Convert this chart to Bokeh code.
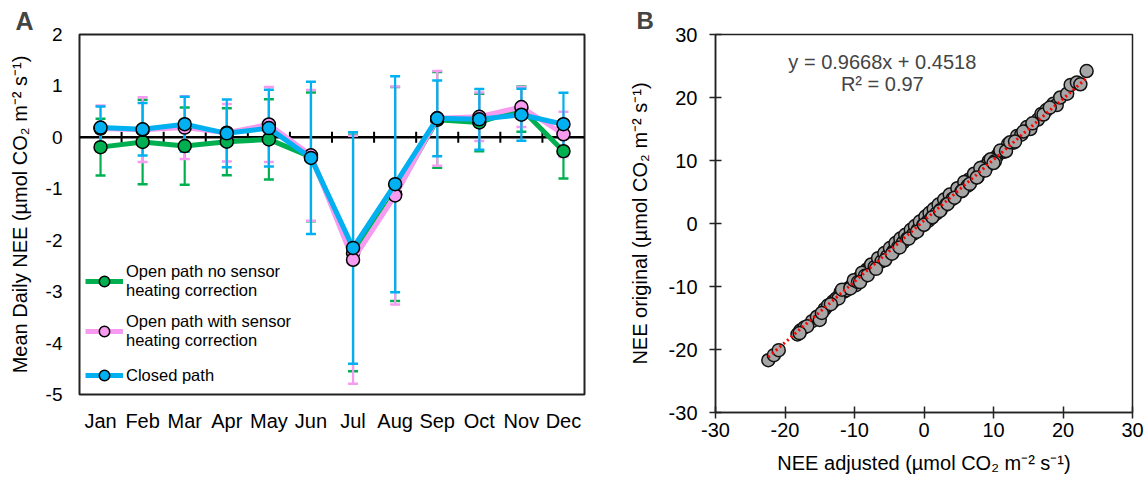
from bokeh.plotting import figure
from bokeh.models import (Range1d, FixedTicker, Whisker, TeeHead, ColumnDataSource,
                          Legend, LegendItem, Span, Label)
from bokeh.layouts import row, column
from bokeh.embed import file_html
from bokeh.resources import INLINE

# ---------------- data ----------------
months = ["Jan", "Feb", "Mar", "Apr", "May", "Jun", "Jul", "Aug", "Sep", "Oct", "Nov", "Dec"]
a_yticks = [-5, -4, -3, -2, -1, 0, 1, 2]

open_no_corr_mean = [-0.19, -0.09, -0.17, -0.085, -0.04, -0.38, -2.25, -1.10, 0.34, 0.29, 0.55, -0.27]
open_no_corr_err = [0.55, 0.82, 0.75, 0.65, 0.78, 1.25, 2.30, 2.08, 0.93, 0.56, 0.44, 0.53]

open_corr_mean = [0.17, 0.15, 0.19, 0.09, 0.25, -0.35, -2.38, -1.13, 0.37, 0.40, 0.59, 0.06]
open_corr_err = [0.45, 0.63, 0.61, 0.56, 0.73, 1.27, 2.41, 2.12, 0.92, 0.47, 0.39, 0.44]

closed_mean = [0.19, 0.157, 0.255, 0.078, 0.18, -0.40, -2.15, -0.91, 0.37, 0.35, 0.44, 0.255]
closed_err = [0.41, 0.51, 0.535, 0.66, 0.745, 1.48, 2.25, 2.10, 0.735, 0.59, 0.505, 0.61]

series_names = ["Open path no sensor\nheating correction",
                "Open path with sensor\nheating correction",
                "Closed path"]

b_ticks = [-30, -20, -10, 0, 10, 20, 30]

nee_adjusted = [-22.4, -21.6, -20.9, -18.2, -17.8, -17.2, -16.1, -15.4, -15.0, -14.3, -13.8, -13.1,
                -12.6, -12.0, -11.5, -10.9, -10.4, -9.8, -9.3, -8.7, -8.2, -7.8, -7.3, -6.8, -6.4,
                -5.9, -5.5, -5.1, -4.7, -4.3, -3.9, -3.6, -3.2, -2.8, -2.5, -2.1, -1.8, -1.4, -1.1,
                -0.8, -0.5, -0.2, 0.1, 0.4, 0.7, 1.0, 1.3, 1.6, 1.9, 2.2, 2.5, 2.8, 3.1, 3.5, 3.9,
                4.3, 4.7, 5.1, 5.6, 6.0, 6.5, 7.0, 7.4, 7.9, 8.4, 8.9, 9.3, 9.8, 10.5, 10.9, 11.6,
                12.1, 12.8, 13.4, 14.0, 14.8, 15.3, 16.4, 16.9, 17.6, 18.6, 19.1, 19.6, 20.6, 21.1,
                22.0, 22.5, 23.4,
                -5.2, -4.5, -4.0, -3.3, -2.6, -2.3, -1.6, -1.2, -0.3, 0.3, 0.9, 1.5, 2.0, 2.6, 3.3,
                4.0, 4.5, 5.3, 6.2, 6.8, 8.6, 9.1, -7.0, -8.0, -9.0, -11.2,
                -12.3, -11.8, -10.6, -10.1, -9.5, -8.9, -8.5, -7.6, -7.1, -6.6, -6.1, -5.7, -5.3,
                -4.9, -4.4, -4.1, -3.7, -3.4, -3.0, -2.7, -2.4, -1.9, -1.5, -1.3, -0.9, -0.6, -0.1,
                0.2, 0.6, 0.8, 1.1, 1.4, 1.8, 2.1, 2.4, 2.9, 3.2, 3.7, 4.1, 4.8, 5.4, 5.8, 6.3, 7.2,
                7.7, 8.1, 9.6, 10.2, 11.0, 11.8, 12.4, 13.1, 14.3, 15.6, 17.2, 18.1, -14.7, -16.8,
                -13.4, -17.9,
                -9.2, -8.1, -6.9, -5.6, -4.6, -3.5, -2.2, -1.0, 0.0, 1.2, 2.3, 3.4, 4.4, 5.5, 6.6,
                7.6, 8.8, 10.0]
nee_original = [-21.7, -20.9, -20.1, -17.6, -17.0, -16.5, -15.5, -14.8, -15.3, -13.6, -13.0, -12.4,
                -11.9, -10.9, -10.8, -10.3, -9.9, -9.8, -8.6, -8.1, -7.3, -7.2, -6.5, -6.2, -5.9,
                -5.6, -4.8, -4.5, -4.3, -3.5, -3.4, -3.2, -2.7, -2.5, -1.8, -1.7, -1.5, -1.0, -0.5,
                -0.6, 0.2, 0.1, 0.8, 0.5, 1.4, 1.1, 1.9, 1.8, 2.6, 2.3, 3.1, 3.0, 3.7, 3.6, 4.5,
                4.4, 5.2, 5.1, 6.1, 6.0, 7.0, 7.0, 7.9, 8.0, 8.9, 8.8, 9.9, 9.6, 10.7, 11.3, 11.4,
                12.6, 12.8, 13.9, 14.1, 15.3, 15.0, 16.5, 17.4, 18.0, 19.0, 18.8, 20.0, 20.6, 22.0,
                22.4, 22.1, 24.2,
                -4.9, -4.2, -3.6, -3.0, -2.3, -2.0, -1.3, -0.9, 0.0, 0.6, 1.2, 1.7, 2.2, 2.8, 3.4,
                4.0, 4.6, 5.5, 6.3, 6.9, 8.8, 9.3, -6.6, -7.5, -8.4, -10.6,
                -11.9, -10.5, -10.3, -9.0, -9.3, -7.8, -8.3, -6.5, -6.9, -5.5, -6.0, -4.7, -5.2,
                -3.9, -4.4, -3.1, -3.7, -2.4, -3.0, -1.8, -2.4, -1.0, -1.6, -0.4, -1.0, 0.3, -0.2,
                1.1, 0.4, 1.7, 0.9, 2.3, 1.6, 3.0, 2.2, 3.8, 3.0, 4.6, 3.9, 5.6, 5.1, 6.6, 6.0, 7.9,
                7.4, 8.8, 10.2, 9.9, 11.6, 11.5, 12.9, 13.0, 14.6, 15.9, 17.3, 18.4, -14.2, -16.3,
                -12.8, -17.4,
                -9.3, -8.2, -7.2, -5.8, -4.8, -3.8, -2.4, -1.3, -0.2, 1.0, 2.0, 3.1, 4.1, 5.2, 6.3,
                7.3, 8.4, 9.6]
fit_slope = 0.9668
fit_intercept = 0.4518
fit_r2 = 0.97

FONT = "Liberation Sans"
GREEN = "#00B050"
PINK = "#F79BF0"
BLUE = "#00B0F0"
UNIT = "(\u00b5mol CO\u2082 m\u207b\u00b2 s\u207b\u00b9)"

# ---------------- panel A ----------------
pa = figure(width=588, height=480, x_range=Range1d(0.5, 12.5), y_range=Range1d(-5, 2),
            output_backend="svg", toolbar_location=None,
            min_border_left=79, min_border_right=4, min_border_top=34, min_border_bottom=86)
pa.grid.visible = False
pa.outline_line_color = "#222222"
pa.outline_line_width = 2

xpos = list(range(1, len(months) + 1))
pa.xaxis.ticker = FixedTicker(ticks=xpos)
pa.xaxis.major_label_overrides = {i + 1: m for i, m in enumerate(months)}
pa.yaxis.ticker = FixedTicker(ticks=a_yticks)
pa.yaxis.major_label_overrides = {t: str(t) for t in a_yticks}
for ax in (pa.xaxis[0], pa.yaxis[0]):
    ax.axis_line_color = None
    ax.major_tick_line_color = None
    ax.minor_tick_line_color = None
    ax.major_tick_out = 0
    ax.major_tick_in = 0
    ax.major_label_text_font = FONT
    ax.major_label_text_color = "black"
    ax.axis_label_text_font = FONT
    ax.axis_label_text_font_style = "normal"
    ax.axis_label_text_color = "black"
pa.xaxis.major_label_text_font_size = "20px"
pa.xaxis.major_label_standoff = 15
pa.yaxis.major_label_text_font_size = "19px"
pa.yaxis.major_label_standoff = 17
pa.yaxis.axis_label = "Mean Daily NEE " + UNIT
pa.yaxis.axis_label_text_font_size = "20px"
pa.yaxis.axis_label_standoff = 12

pa.title.text = "A"
pa.title.text_font = FONT
pa.title.text_font_size = "25px"
pa.title.text_font_style = "bold"
pa.title.align = "left"
pa.title.offset = -64
pa.title.standoff = 0

pa.add_layout(Span(location=0, dimension="width", line_color="black", line_width=2.5, level="underlay"))

series = [(open_no_corr_mean, open_no_corr_err, GREEN),
          (open_corr_mean, open_corr_err, PINK),
          (closed_mean, closed_err, BLUE)]

for mean, err, col in series:
    src = ColumnDataSource(dict(x=xpos,
                                lower=[m - e for m, e in zip(mean, err)],
                                upper=[m + e for m, e in zip(mean, err)]))
    w = Whisker(source=src, base="x", lower="lower", upper="upper", dimension="height",
                line_color=col, line_width=2.2, level="underlay",
                upper_head=TeeHead(size=10, line_color=col, line_width=2.5),
                lower_head=TeeHead(size=10, line_color=col, line_width=2.5))
    pa.add_layout(w)

tick_x = [i + 1.5 for i in range(len(months) - 1)]
pa.scatter(tick_x, [0] * len(tick_x), marker="dash", angle=1.5708, size=11,
           line_color="black", line_width=2)

items = []
for (mean, err, col), name in zip(series, series_names):
    lr = pa.line(xpos, mean, line_color=col, line_width=5)
    mr = pa.scatter(xpos, mean, size=13, fill_color=col, line_color="black", line_width=1.5)
    items.append(LegendItem(label=name, renderers=[lr, mr]))

leg = Legend(items=items, location=(6, 6), border_line_color=None,
             background_fill_alpha=0, padding=10, margin=0, spacing=12,
             glyph_width=38, glyph_height=26, label_standoff=3,
             label_text_font=FONT, label_text_font_size="16.5px", label_text_color="black")
pa.add_layout(leg)

# ---------------- panel B ----------------
pb = figure(width=559, height=480, x_range=Range1d(-30, 30), y_range=Range1d(-30, 30),
            output_backend="svg", toolbar_location=None,
            min_border_left=127, min_border_right=15, min_border_top=34, min_border_bottom=68)
pb.grid.visible = False
pb.outline_line_color = "#222222"
pb.outline_line_width = 1.5
pb.xaxis.ticker = FixedTicker(ticks=b_ticks)
pb.yaxis.ticker = FixedTicker(ticks=b_ticks)
pb.xaxis.major_label_overrides = {t: str(t) for t in b_ticks}
pb.yaxis.major_label_overrides = {t: str(t) for t in b_ticks}
for ax in (pb.xaxis[0], pb.yaxis[0]):
    ax.axis_line_color = "#222222"
    ax.axis_line_width = 1.5
    ax.major_tick_line_color = "#222222"
    ax.major_tick_line_width = 1.5
    ax.major_tick_in = 6
    ax.major_tick_out = 6
    ax.minor_tick_line_color = None
    ax.major_label_text_font = FONT
    ax.major_label_text_font_size = "20px"
    ax.major_label_text_color = "black"
    ax.axis_label_text_font = FONT
    ax.axis_label_text_font_size = "20px"
    ax.axis_label_text_font_style = "normal"
    ax.axis_label_text_color = "black"
pb.xaxis.major_label_standoff = 4
pb.xaxis.axis_label_standoff = 12
pb.yaxis.major_label_standoff = 12
pb.yaxis.axis_label_standoff = 15
pb.xaxis.axis_label = "NEE adjusted " + UNIT
pb.yaxis.axis_label = "NEE original " + UNIT

pb.title.text = "B"
pb.title.text_font = FONT
pb.title.text_font_size = "24px"
pb.title.text_font_style = "bold"
pb.title.align = "left"
pb.title.offset = -79
pb.title.standoff = 2

pb.scatter(nee_adjusted, nee_original, size=13, fill_color="#A6A6A6", line_color="#111111", line_width=1.5)
xmin, xmax = min(nee_adjusted), max(nee_adjusted)
pb.line([xmin, xmax], [fit_slope * xmin + fit_intercept, fit_slope * xmax + fit_intercept],
        line_color="red", line_width=3, line_dash="2 3")

pb.add_layout(Label(x=-6.0, y=25.6, text="y = %.4fx + %.4f" % (fit_slope, fit_intercept),
                    text_font=FONT, text_font_size="20px", text_align="center", text_baseline="middle"))
pb.add_layout(Label(x=-6.0, y=22.2, text="R\u00b2 = %.2f" % fit_r2,
                    text_font=FONT, text_font_size="20px", text_align="center", text_baseline="middle"))

layout = row(column(pa), column(pb))
open("out.html", "w").write(file_html(layout, INLINE))
